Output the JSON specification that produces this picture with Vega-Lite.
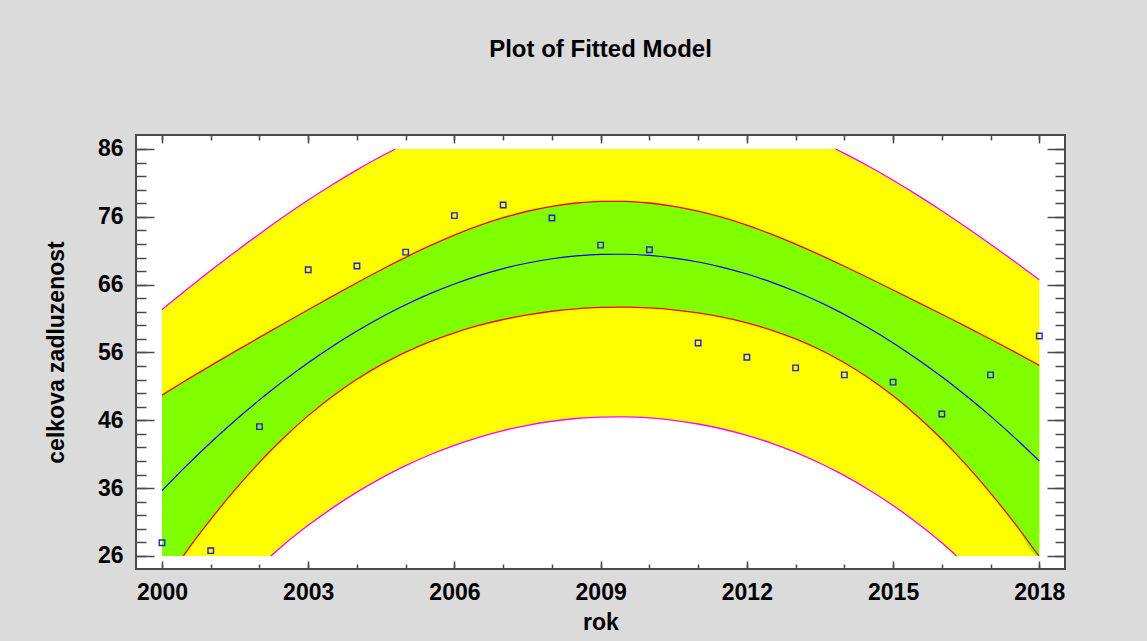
{
  "$schema": "https://vega.github.io/schema/vega-lite/v6.json",
  "width": 929,
  "height": 434,
  "autosize": {"type": "none"},
  "padding": {"left": 136, "top": 135, "right": 82, "bottom": 72},
  "background": "#dbdbdb",
  "title": {"text": "Plot of Fitted Model", "font": "Liberation Sans", "fontSize": 24, "fontWeight": "bold", "color": "#000000", "anchor": "middle", "baseline": "alphabetic", "offset": 53},
  "config": {
    "view": {"fill": "#ffffff", "stroke": "#4a4a4a", "strokeWidth": 2},
    "axis": {"grid": false, "domain": false, "labelFont": "Liberation Sans", "labelFontSize": 23, "labelFontWeight": "bold", "labelColor": "#000000", "titleFont": "Liberation Sans", "titleFontSize": 23, "titleFontWeight": "bold", "titleColor": "#000000", "tickColor": "#4a4a4a", "tickWidth": 1.5}
  },
  "datasets": {
    "curves": [
      {"year": 2000, "fit": 35.626, "uc": 49.719, "lc": null, "up1": 62.32, "up2": null, "lp": null, "glo": 26, "yl": 26, "yh": 62.32},
      {"year": 2000.438, "fit": 38.833, "uc": 51.647, "lc": 26, "up1": 64.874, "up2": null, "lp": null, "glo": 26, "yl": 26, "yh": 64.874},
      {"year": 2000.5, "fit": 39.274, "uc": 51.916, "lc": 26.632, "up1": 65.231, "up2": null, "lp": null, "glo": 26.632, "yl": 26, "yh": 65.231},
      {"year": 2001, "fit": 42.721, "uc": 54.059, "lc": 31.383, "up1": 68.068, "up2": null, "lp": null, "glo": 31.383, "yl": 26, "yh": 68.068},
      {"year": 2001.5, "fit": 45.966, "uc": 56.158, "lc": 35.774, "up1": 70.822, "up2": null, "lp": null, "glo": 35.774, "yl": 26, "yh": 70.822},
      {"year": 2002, "fit": 49.009, "uc": 58.223, "lc": 39.795, "up1": 73.48, "up2": null, "lp": null, "glo": 39.795, "yl": 26, "yh": 73.48},
      {"year": 2002.233, "fit": 50.359, "uc": 59.179, "lc": 41.539, "up1": 74.684, "up2": null, "lp": 26, "glo": 41.539, "yl": 26, "yh": 74.684},
      {"year": 2002.5, "fit": 51.851, "uc": 60.267, "lc": 43.435, "up1": 76.033, "up2": null, "lp": 27.669, "glo": 43.435, "yl": 27.669, "yh": 76.033},
      {"year": 2003, "fit": 54.492, "uc": 62.294, "lc": 46.69, "up1": 78.467, "up2": null, "lp": 30.517, "glo": 46.69, "yl": 30.517, "yh": 78.467},
      {"year": 2003.5, "fit": 56.931, "uc": 64.302, "lc": 49.56, "up1": 80.769, "up2": null, "lp": 33.093, "glo": 49.56, "yl": 33.093, "yh": 80.769},
      {"year": 2004, "fit": 59.168, "uc": 66.277, "lc": 52.059, "up1": 82.927, "up2": null, "lp": 35.409, "glo": 52.059, "yl": 35.409, "yh": 82.927},
      {"year": 2004.5, "fit": 61.204, "uc": 68.197, "lc": 54.211, "up1": 84.928, "up2": null, "lp": 37.48, "glo": 54.211, "yl": 37.48, "yh": 84.928},
      {"year": 2004.792, "fit": 62.3, "uc": 69.281, "lc": 55.319, "up1": 86, "up2": null, "lp": 38.579, "glo": 55.319, "yl": 38.579, "yh": 86},
      {"year": 2005, "fit": 63.038, "uc": 70.031, "lc": 56.045, "up1": null, "up2": null, "lp": 39.314, "glo": 56.045, "yl": 39.314, "yh": 86},
      {"year": 2005.5, "fit": 64.671, "uc": 71.744, "lc": 57.598, "up1": null, "up2": null, "lp": 40.923, "glo": 57.598, "yl": 40.923, "yh": 86},
      {"year": 2006, "fit": 66.103, "uc": 73.305, "lc": 58.901, "up1": null, "up2": null, "lp": 42.317, "glo": 58.901, "yl": 42.317, "yh": 86},
      {"year": 2006.5, "fit": 67.333, "uc": 74.685, "lc": 59.981, "up1": null, "up2": null, "lp": 43.501, "glo": 59.981, "yl": 43.501, "yh": 86},
      {"year": 2007, "fit": 68.361, "uc": 75.862, "lc": 60.86, "up1": null, "up2": null, "lp": 44.482, "glo": 60.86, "yl": 44.482, "yh": 86},
      {"year": 2007.5, "fit": 69.188, "uc": 76.82, "lc": 61.556, "up1": null, "up2": null, "lp": 45.268, "glo": 61.556, "yl": 45.268, "yh": 86},
      {"year": 2008, "fit": 69.814, "uc": 77.548, "lc": 62.08, "up1": null, "up2": null, "lp": 45.861, "glo": 62.08, "yl": 45.861, "yh": 86},
      {"year": 2008.5, "fit": 70.238, "uc": 78.036, "lc": 62.44, "up1": null, "up2": null, "lp": 46.265, "glo": 62.44, "yl": 46.265, "yh": 86},
      {"year": 2009, "fit": 70.46, "uc": 78.28, "lc": 62.64, "up1": null, "up2": null, "lp": 46.48, "glo": 62.64, "yl": 46.48, "yh": 86},
      {"year": 2009.5, "fit": 70.481, "uc": 78.279, "lc": 62.683, "up1": null, "up2": null, "lp": 46.508, "glo": 62.683, "yl": 46.508, "yh": 86},
      {"year": 2010, "fit": 70.3, "uc": 78.034, "lc": 62.566, "up1": null, "up2": null, "lp": 46.347, "glo": 62.566, "yl": 46.347, "yh": 86},
      {"year": 2010.5, "fit": 69.918, "uc": 77.55, "lc": 62.286, "up1": null, "up2": null, "lp": 45.998, "glo": 62.286, "yl": 45.998, "yh": 86},
      {"year": 2011, "fit": 69.335, "uc": 76.836, "lc": 61.834, "up1": null, "up2": null, "lp": 45.456, "glo": 61.834, "yl": 45.456, "yh": 86},
      {"year": 2011.5, "fit": 68.55, "uc": 75.902, "lc": 61.198, "up1": null, "up2": null, "lp": 44.718, "glo": 61.198, "yl": 44.718, "yh": 86},
      {"year": 2012, "fit": 67.563, "uc": 74.765, "lc": 60.361, "up1": null, "up2": null, "lp": 43.777, "glo": 60.361, "yl": 43.777, "yh": 86},
      {"year": 2012.5, "fit": 66.375, "uc": 73.446, "lc": 59.304, "up1": null, "up2": null, "lp": 42.629, "glo": 59.304, "yl": 42.629, "yh": 86},
      {"year": 2013, "fit": 64.986, "uc": 71.979, "lc": 57.993, "up1": null, "up2": null, "lp": 41.262, "glo": 57.993, "yl": 41.262, "yh": 86},
      {"year": 2013.5, "fit": 63.395, "uc": 70.388, "lc": 56.402, "up1": null, "up2": null, "lp": 39.671, "glo": 56.402, "yl": 39.671, "yh": 86},
      {"year": 2013.818, "fit": 62.278, "uc": 69.33, "lc": 55.226, "up1": null, "up2": 86, "lp": 38.537, "glo": 55.226, "yl": 38.537, "yh": 86},
      {"year": 2014, "fit": 61.602, "uc": 68.711, "lc": 54.493, "up1": null, "up2": 85.361, "lp": 37.843, "glo": 54.493, "yl": 37.843, "yh": 85.361},
      {"year": 2014.5, "fit": 59.608, "uc": 66.979, "lc": 52.237, "up1": null, "up2": 83.446, "lp": 35.77, "glo": 52.237, "yl": 35.77, "yh": 83.446},
      {"year": 2015, "fit": 57.412, "uc": 65.214, "lc": 49.61, "up1": null, "up2": 81.387, "lp": 33.437, "glo": 49.61, "yl": 33.437, "yh": 81.387},
      {"year": 2015.5, "fit": 55.015, "uc": 63.431, "lc": 46.599, "up1": null, "up2": 79.197, "lp": 30.833, "glo": 46.599, "yl": 30.833, "yh": 79.197},
      {"year": 2016, "fit": 52.417, "uc": 61.631, "lc": 43.203, "up1": null, "up2": 76.888, "lp": 27.946, "glo": 43.203, "yl": 27.946, "yh": 76.888},
      {"year": 2016.305, "fit": 50.733, "uc": 60.523, "lc": 40.943, "up1": null, "up2": 75.426, "lp": 26, "glo": 40.943, "yl": 26, "yh": 75.426},
      {"year": 2016.5, "fit": 49.617, "uc": 59.809, "lc": 39.425, "up1": null, "up2": 74.473, "lp": null, "glo": 39.425, "yl": 26, "yh": 74.473},
      {"year": 2017, "fit": 46.615, "uc": 57.953, "lc": 35.277, "up1": null, "up2": 71.962, "lp": null, "glo": 35.277, "yl": 26, "yh": 71.962},
      {"year": 2017.5, "fit": 43.412, "uc": 56.054, "lc": 30.77, "up1": null, "up2": 69.369, "lp": null, "glo": 30.77, "yl": 26, "yh": 69.369},
      {"year": 2017.991, "fit": 40.07, "uc": 54.136, "lc": 26, "up1": null, "up2": 66.749, "lp": null, "glo": 26, "yl": 26, "yh": 66.749},
      {"year": 2018, "fit": 40.008, "uc": 54.101, "lc": null, "up1": null, "up2": 66.702, "lp": null, "glo": 26, "yl": 26, "yh": 66.702}
    ],
    "obs": [
      {"year": 2000, "debt": 27.95}, {"year": 2001, "debt": 26.78}, {"year": 2002, "debt": 45.07},
      {"year": 2003, "debt": 68.2}, {"year": 2004, "debt": 68.74}, {"year": 2005, "debt": 70.79},
      {"year": 2006, "debt": 76.17}, {"year": 2007, "debt": 77.74}, {"year": 2008, "debt": 75.83},
      {"year": 2009, "debt": 71.82}, {"year": 2010, "debt": 71.14}, {"year": 2011, "debt": 57.39},
      {"year": 2012, "debt": 55.3}, {"year": 2013, "debt": 53.73}, {"year": 2014, "debt": 52.7},
      {"year": 2015, "debt": 51.63}, {"year": 2016, "debt": 46.93}, {"year": 2017, "debt": 52.7},
      {"year": 2018, "debt": 58.42}
    ]
  },
  "resolve": {"axis": {"x": "independent", "y": "independent"}},
  "layer": [
    {
      "data": {"name": "curves"},
      "mark": {"type": "area", "color": "#ffff00", "interpolate": "monotone", "opacity": 1},
      "encoding": {
        "x": {"field": "year", "type": "quantitative", "scale": {"domain": [1999.467, 2018.527], "nice": false, "zero": false},
              "axis": {"orient": "bottom", "values": [2000, 2003, 2006, 2009, 2012, 2015, 2018], "format": "d", "ticks": false, "tickSize": 0, "labelPadding": 12, "title": "rok", "titlePadding": 7}},
        "y": {"field": "yl", "type": "quantitative", "scale": {"domain": [24.08, 88.06], "nice": false, "zero": false},
              "axis": {"orient": "left", "values": [26, 36, 46, 56, 66, 76, 86], "format": "d", "ticks": false, "tickSize": 0, "labelPadding": 13, "title": "celkova zadluzenost", "titlePadding": 29}},
        "y2": {"field": "yh"}
      }
    },
    {
      "data": {"name": "curves"},
      "mark": {"type": "area", "color": "#7fff00", "interpolate": "monotone", "opacity": 1},
      "encoding": {
        "x": {"field": "year", "type": "quantitative", "scale": {"domain": [1999.467, 2018.527], "nice": false, "zero": false},
              "axis": {"orient": "bottom", "values": [2000, 2003, 2006, 2009, 2012, 2015, 2018], "labels": false, "tickSize": -8, "title": null}},
        "y": {"field": "glo", "type": "quantitative", "scale": {"domain": [24.08, 88.06], "nice": false, "zero": false},
              "axis": {"orient": "left", "values": [26, 36, 46, 56, 66, 76, 86], "labels": false, "tickSize": -18, "title": null}},
        "y2": {"field": "uc"}
      }
    },
    {
      "data": {"name": "curves"},
      "mark": {"type": "line", "color": "#ff00ff", "strokeWidth": 1.3, "interpolate": "monotone", "invalid": "filter"},
      "encoding": {
        "x": {"field": "year", "type": "quantitative", "scale": {"domain": [1999.467, 2018.527], "nice": false, "zero": false},
              "axis": {"orient": "bottom", "values": [2000, 2001, 2002, 2003, 2004, 2005, 2006, 2007, 2008, 2009, 2010, 2011, 2012, 2013, 2014, 2015, 2016, 2017, 2018], "labels": false, "tickSize": -5, "title": null}},
        "y": {"field": "up1", "type": "quantitative", "scale": {"domain": [24.08, 88.06], "nice": false, "zero": false},
              "axis": {"orient": "left", "values": [26, 28, 30, 32, 34, 36, 38, 40, 42, 44, 46, 48, 50, 52, 54, 56, 58, 60, 62, 64, 66, 68, 70, 72, 74, 76, 78, 80, 82, 84, 86], "labels": false, "tickSize": -10, "title": null}}
      }
    },
    {
      "data": {"name": "curves"},
      "mark": {"type": "line", "color": "#ff00ff", "strokeWidth": 1.3, "interpolate": "monotone", "invalid": "filter"},
      "encoding": {
        "x": {"field": "year", "type": "quantitative", "scale": {"domain": [1999.467, 2018.527], "nice": false, "zero": false},
              "axis": {"orient": "top", "values": [2000, 2003, 2006, 2009, 2012, 2015, 2018], "labels": false, "tickSize": -8, "title": null}},
        "y": {"field": "up2", "type": "quantitative", "scale": {"domain": [24.08, 88.06], "nice": false, "zero": false},
              "axis": {"orient": "right", "values": [26, 36, 46, 56, 66, 76, 86], "labels": false, "tickSize": -18, "title": null}}
      }
    },
    {
      "data": {"name": "curves"},
      "mark": {"type": "line", "color": "#ff00ff", "strokeWidth": 1.3, "interpolate": "monotone", "invalid": "filter"},
      "encoding": {
        "x": {"field": "year", "type": "quantitative", "scale": {"domain": [1999.467, 2018.527], "nice": false, "zero": false},
              "axis": {"orient": "top", "values": [2000, 2001, 2002, 2003, 2004, 2005, 2006, 2007, 2008, 2009, 2010, 2011, 2012, 2013, 2014, 2015, 2016, 2017, 2018], "labels": false, "tickSize": -5, "title": null}},
        "y": {"field": "lp", "type": "quantitative", "scale": {"domain": [24.08, 88.06], "nice": false, "zero": false},
              "axis": {"orient": "right", "values": [26, 28, 30, 32, 34, 36, 38, 40, 42, 44, 46, 48, 50, 52, 54, 56, 58, 60, 62, 64, 66, 68, 70, 72, 74, 76, 78, 80, 82, 84, 86], "labels": false, "tickSize": -10, "title": null}}
      }
    },
    {
      "data": {"name": "curves"},
      "mark": {"type": "line", "color": "#ff0000", "strokeWidth": 1.3, "interpolate": "monotone", "invalid": "filter"},
      "encoding": {
        "x": {"field": "year", "type": "quantitative", "scale": {"domain": [1999.467, 2018.527], "nice": false, "zero": false}, "axis": null},
        "y": {"field": "uc", "type": "quantitative", "scale": {"domain": [24.08, 88.06], "nice": false, "zero": false}, "axis": null}
      }
    },
    {
      "data": {"name": "curves"},
      "mark": {"type": "line", "color": "#ff0000", "strokeWidth": 1.3, "interpolate": "monotone", "invalid": "filter"},
      "encoding": {
        "x": {"field": "year", "type": "quantitative", "scale": {"domain": [1999.467, 2018.527], "nice": false, "zero": false}, "axis": null},
        "y": {"field": "lc", "type": "quantitative", "scale": {"domain": [24.08, 88.06], "nice": false, "zero": false}, "axis": null}
      }
    },
    {
      "data": {"name": "curves"},
      "mark": {"type": "line", "color": "#0000ff", "strokeWidth": 1.2, "interpolate": "monotone", "invalid": "filter"},
      "encoding": {
        "x": {"field": "year", "type": "quantitative", "scale": {"domain": [1999.467, 2018.527], "nice": false, "zero": false}, "axis": null},
        "y": {"field": "fit", "type": "quantitative", "scale": {"domain": [24.08, 88.06], "nice": false, "zero": false}, "axis": null}
      }
    },
    {
      "data": {"name": "obs"},
      "mark": {"type": "point", "shape": "square", "filled": false, "color": "#2323d6", "size": 30, "strokeWidth": 1.4, "opacity": 1},
      "encoding": {
        "x": {"field": "year", "type": "quantitative", "scale": {"domain": [1999.467, 2018.527], "nice": false, "zero": false}, "axis": null},
        "y": {"field": "debt", "type": "quantitative", "scale": {"domain": [24.08, 88.06], "nice": false, "zero": false}, "axis": null}
      }
    }
  ]
}
